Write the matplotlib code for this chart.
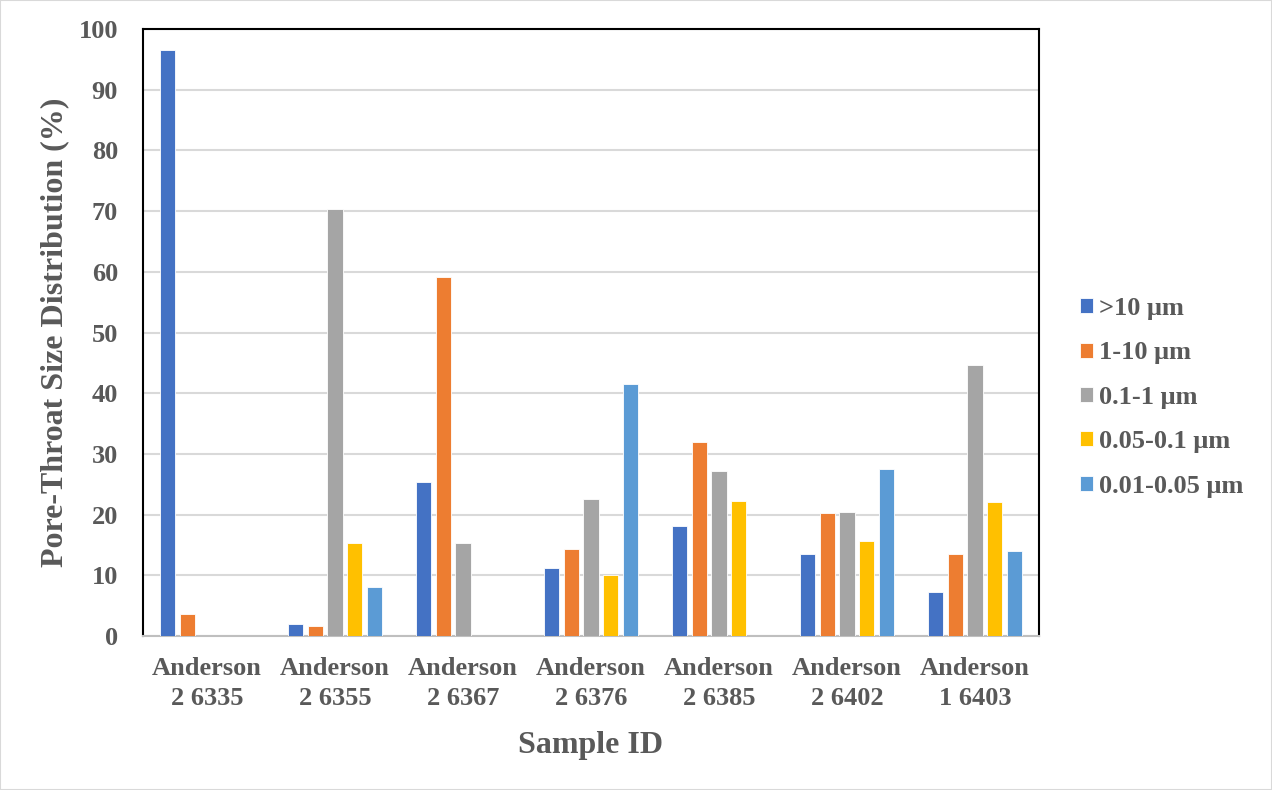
import numpy as np
import matplotlib
matplotlib.use('Agg')
import matplotlib.pyplot as plt
from matplotlib.patches import Rectangle

samples = ['Anderson\n2 6335', 'Anderson\n2 6355', 'Anderson\n2 6367', 'Anderson\n2 6376',
           'Anderson\n2 6385', 'Anderson\n2 6402', 'Anderson\n1 6403']
series = ['>10 μm', '1-10 μm', '0.1-1 μm', '0.05-0.1 μm', '0.01-0.05 μm']
gt10 = [96.5, 2.0, 25.4, 11.2, 18.1, 13.5, 7.2]
r1_10 = [3.6, 1.7, 59.1, 14.3, 32.0, 20.3, 13.5]
r01_1 = [0, 70.3, 15.3, 22.6, 27.2, 20.4, 44.6]
r005_01 = [0, 15.3, 0, 10.1, 22.3, 15.7, 22.0]
r001_005 = [0, 8.0, 0, 41.5, 0, 27.5, 14.0]
colors = ['#4472C4', '#ED7D31', '#A5A5A5', '#FFC000', '#5B9BD5']

GREY = '#595959'
plt.rcParams['font.family'] = ['Liberation Serif', 'DejaVu Serif']
plt.rcParams['font.weight'] = 'bold'

fig = plt.figure(figsize=(12.72, 7.90), dpi=100)
fig.patches.append(Rectangle((0, 0), 1, 1, transform=fig.transFigure, fill=False,
                             edgecolor='#d9d9d9', linewidth=1.5))
ax = fig.add_axes([0.1124, 0.1949, 0.7044, 0.7684])

x = np.arange(len(samples))
pitch = 0.154
width = 0.121
data = [gt10, r1_10, r01_1, r005_01, r001_005]
handles = []
for i, (vals, name, c) in enumerate(zip(data, series, colors)):
    b = ax.bar(x + (i - 2) * pitch, vals, width, color=c, label=name, zorder=3,
               edgecolor='white', linewidth=0.6)
    handles.append(b)

ax.set_xlim(-0.5, len(samples) - 0.5)
ax.set_ylim(0, 100)
ax.set_yticks(range(0, 101, 10))
ax.grid(axis='y', color='#d9d9d9', linewidth=1.5, zorder=0)
ax.set_axisbelow(True)
ax.set_xticks(x)
ax.set_xticklabels(samples, fontsize=19, color=GREY, fontweight='bold', linespacing=1.4)
ax.tick_params(axis='y', labelsize=19, labelcolor=GREY, length=0, pad=18)
ax.tick_params(axis='x', length=0, pad=15)
for s in ['left', 'top', 'right']:
    ax.spines[s].set_color('black')
    ax.spines[s].set_linewidth(1.5)
ax.spines['bottom'].set_color('#bfbfbf')
ax.spines['bottom'].set_linewidth(1.5)

ax.set_ylabel('Pore-Throat Size Distribution (%)', fontsize=23, color=GREY,
              fontweight='bold', labelpad=7)
ax.set_xlabel('Sample ID', fontsize=23, color=GREY, fontweight='bold', labelpad=15)

fig.legend(handles=handles, labels=series, loc='center left',
           bbox_to_anchor=(0.830, 0.497), frameon=False, fontsize=19,
           handlelength=0.5, handleheight=0.5, handletextpad=0.25,
           labelspacing=0.81, labelcolor=GREY)

fig.savefig('out.png', dpi=100)
